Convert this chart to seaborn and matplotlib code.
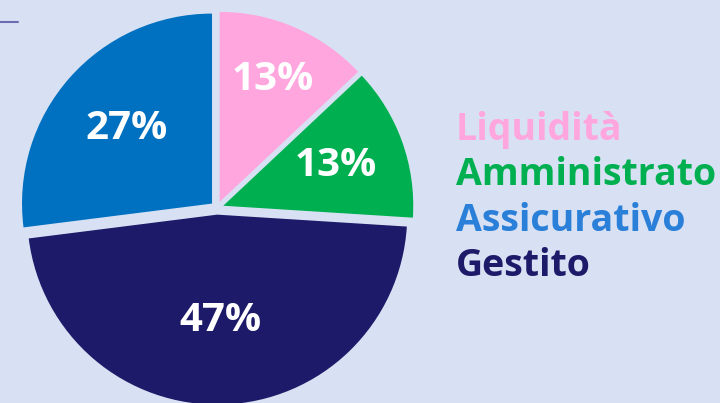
import matplotlib
matplotlib.use("Agg")
import numpy as np
import matplotlib.pyplot as plt
import seaborn as sns

# data (clockwise from 12 o'clock)
categories = ["Liquidità", "Amministrato", "Gestito", "Assicurativo"]
shares = [13, 13, 47, 27]
slice_colors = ["#FFA6DF", "#00B050", "#1D1A69", "#0070C0"]
text_colors = ["#FFA6DF", "#00B050", "#1D1A69", "#2A7FD8"]
legend_order = ["Liquidità", "Amministrato", "Assicurativo", "Gestito"]
label_dist = [0.70, 0.63, 0.56, 0.60]

bg = "#D8E1F3"
sns.set_theme(style="white", rc={"figure.facecolor": bg, "axes.facecolor": bg,
                                 "savefig.facecolor": bg})
plt.rcParams["font.family"] = ["Open Sans", "DejaVu Sans"]

fig = plt.figure(figsize=(7.2, 4.03), dpi=100)
ax = fig.add_axes([0.0111, -0.0347, 0.5806, 1.0372])

wedges, texts, autotexts = ax.pie(
    shares,
    colors=slice_colors,
    startangle=90,
    counterclock=False,
    explode=[0.035] * len(shares),
    autopct="%d%%",
    pctdistance=0.64,
    wedgeprops={"linewidth": 0},
    textprops={"color": "white", "fontsize": 29, "fontweight": "bold"},
)
# per-slice label distance from each wedge's own centre
for w, t, d in zip(wedges, autotexts, label_dist):
    mid = np.deg2rad((w.theta1 + w.theta2) / 2)
    cx, cy = w.center
    t.set_position((cx + d * np.cos(mid), cy + d * np.sin(mid)))

ax.set_xlim(-1.1, 1.1)
ax.set_ylim(-1.1, 1.1)
ax.set_aspect("equal")
ax.axis("off")

# little rule at top-left
fig.add_artist(plt.Line2D([0, 18 / 720], [1 - 22 / 403, 1 - 22 / 403],
                          color="#6B6BAF", lw=1.5))

handles = [wedges[categories.index(c)] for c in legend_order]
leg = fig.legend(handles, legend_order, loc="center left",
                 bbox_to_anchor=(456 / 720, 1 - 198 / 403),
                 frameon=False, handlelength=0, handletextpad=0,
                 borderpad=0, borderaxespad=0, labelspacing=0.2,
                 prop={"size": 27, "weight": "bold"})
for h in leg.legend_handles:
    h.set_visible(False)
for t in leg.get_texts():
    t.set_color(text_colors[categories.index(t.get_text())])

fig.savefig("out.png", dpi=100)
